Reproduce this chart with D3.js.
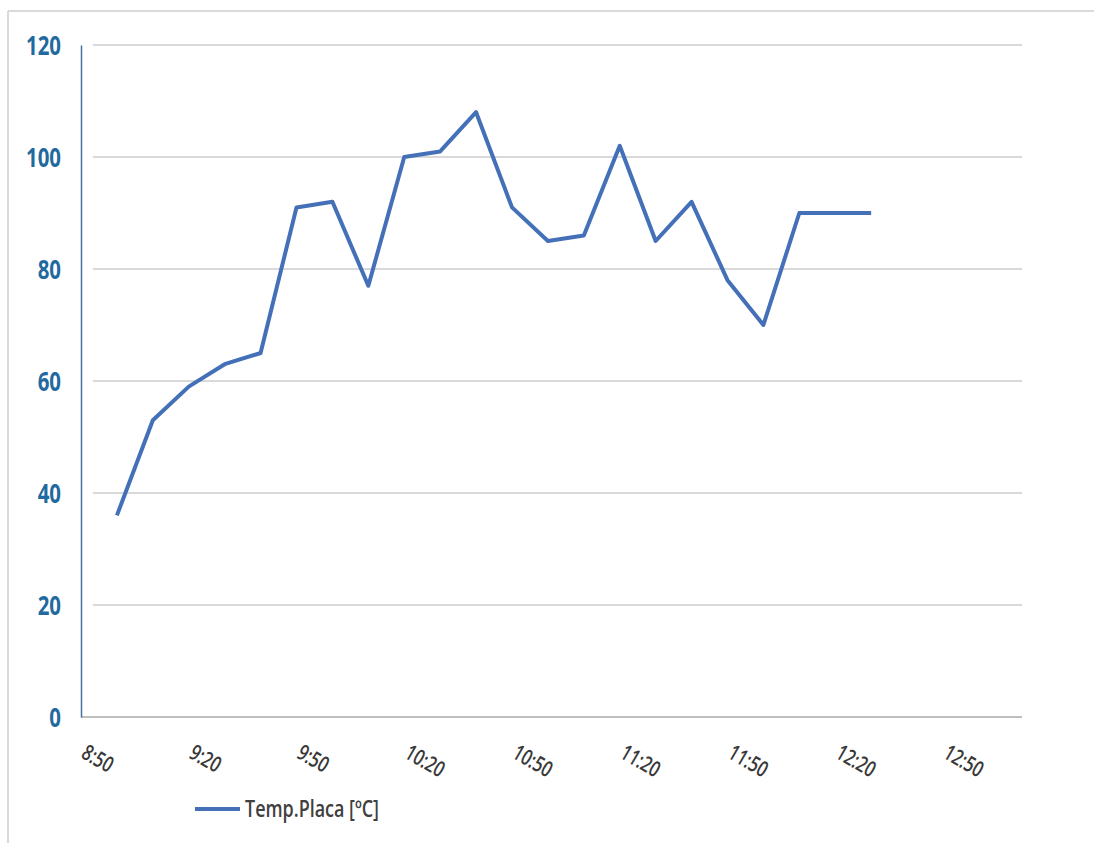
<!DOCTYPE html>
<html>
<head>
<meta charset="utf-8">
<script src="https://cdn.jsdelivr.net/npm/d3@7"></script>
<style>
  html, body { margin: 0; padding: 0; background: #ffffff; }
  svg { display: block; }
</style>
</head>
<body>
<svg id="chart" width="1094" height="843"></svg>
<script>
// Plate temperature readings, one every 10 minutes starting at 8:50
const times = ["8:50","9:00","9:10","9:20","9:30","9:40","9:50","10:00","10:10","10:20","10:30",
               "10:40","10:50","11:00","11:10","11:20","11:30","11:40","11:50","12:00","12:10","12:20"];
const tempPlaca = [36, 53, 59, 63, 65, 91, 92, 77, 100, 101, 108,
                   91, 85, 86, 102, 85, 92, 78, 70, 90, 90, 90];
const xTickLabels = ["8:50","9:20","9:50","10:20","10:50","11:20","11:50","12:20","12:50"];
const yTicks = [0, 20, 40, 60, 80, 100, 120];
const seriesName = "Temp.Placa [ºC]";

const toMin = s => { const [h, m] = s.split(":").map(Number); return h * 60 + m; };

const svg = d3.select("#chart");
const fontFamily = "'Open Sans', 'Liberation Sans', sans-serif";
const lineColor = "#4470b8";
const narrow = 0.77; // horizontal squeeze for a condensed look

// Outer frame (top and left edges)
svg.append("line").attr("x1", 8).attr("y1", 11).attr("x2", 1094).attr("y2", 11)
  .attr("stroke", "#dadada").attr("stroke-width", 2);
svg.append("line").attr("x1", 8).attr("y1", 11).attr("x2", 8).attr("y2", 843)
  .attr("stroke", "#dadada").attr("stroke-width", 2);

const x = d3.scaleLinear().domain([toMin("8:40"), toMin("13:02")]).range([81, 1022]);
const y = d3.scaleLinear().domain([0, 120]).range([717, 45]);

// Horizontal gridlines
svg.append("g").selectAll("line").data(yTicks.filter(d => d > 0)).join("line")
  .attr("x1", 93).attr("x2", 1022)
  .attr("y1", d => y(d)).attr("y2", d => y(d))
  .attr("stroke", "#d9d9d9").attr("stroke-width", 2);

// Category (bottom) axis line
svg.append("line").attr("x1", 81).attr("x2", 1022).attr("y1", y(0)).attr("y2", y(0))
  .attr("stroke", "#bfbfbf").attr("stroke-width", 2);

// Value axis
const yAxis = d3.axisLeft(y).tickValues(yTicks).tickSize(0).tickPadding(20);
const gy = svg.append("g").attr("transform", "translate(81,0)").call(yAxis);
gy.select(".domain").attr("stroke", "#4a6fa5").attr("stroke-width", 1.5);
gy.selectAll("text")
  .attr("x", -20 / narrow)
  .attr("transform", `scale(${narrow},1)`)
  .attr("fill", "#1f6a9e")
  .attr("font-family", fontFamily)
  .attr("font-weight", "bold")
  .attr("font-size", 26.5)
  .attr("dy", "0.36em");

// Time labels, rotated
svg.append("g").selectAll("text").data(xTickLabels).join("text")
  .attr("transform", d => `translate(${x(toMin(d)) - 37},757) rotate(30) scale(0.74,1)`)
  .attr("text-anchor", "start")
  .attr("fill", "#383838")
  .attr("font-family", fontFamily)
  .attr("font-weight", 600)
  .attr("font-size", 22)
  .text(d => d);

// Temperature line
const line = d3.line()
  .x((d, i) => x(toMin(times[i])))
  .y(d => y(d));
svg.append("path").datum(tempPlaca)
  .attr("d", line)
  .attr("fill", "none")
  .attr("stroke", lineColor)
  .attr("stroke-width", 4)
  .attr("stroke-linejoin", "round");

// Legend
const legend = svg.append("g").attr("transform", "translate(195,809)");
legend.append("line").attr("x1", 0).attr("x2", 45).attr("y1", 0).attr("y2", 0)
  .attr("stroke", lineColor).attr("stroke-width", 4);
legend.append("text").attr("x", 50 / 0.78).attr("y", 0).attr("dy", "0.36em")
  .attr("transform", "scale(0.78,1)")
  .attr("fill", "#404040")
  .attr("font-family", fontFamily)
  .attr("font-weight", 600)
  .attr("font-size", 23)
  .text(seriesName);
</script>
</body>
</html>
